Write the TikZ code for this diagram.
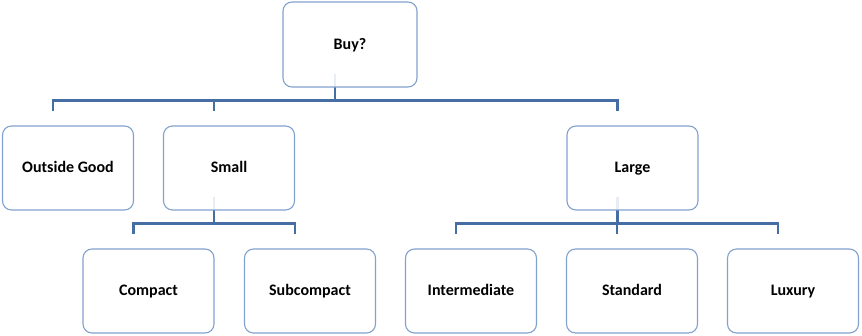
\documentclass[tikz,border=0pt]{standalone}
\usepackage{fontspec}
\setmainfont{Carlito}
\usepackage{xcolor}
\definecolor{boxline}{RGB}{130,162,206}
\definecolor{linkline}{RGB}{70,110,165}
\tikzset{
choice/.style = {draw=boxline, line width=1.1pt, rounded corners=9pt,
                 fill=white, fill opacity=0.88, text opacity=1,
                 minimum width=131pt, minimum height=84pt,
                 text height=2ex, text depth=.1ex,
                 font=\bfseries\fontsize{16}{18}\selectfont},
link/.style = {draw=linkline, line width=2.8pt, line join=miter}}
\usetikzlibrary{%
  positioning,calc,backgrounds
}
\begin{document}
\begin{tikzpicture}[x=1pt,y=1pt]
  \useasboundingbox (0,0) rectangle (862,335);
  % nest levels
  \node[choice, minimum width=134pt, minimum height=85pt] (buy) at (350,290.5) {Buy?};
  \node[choice] (og)    at (68,167)    {Outside Good};
  \node[choice] (small) at (229,167)   {Small};
  \node[choice] (large) at (632.5,167) {Large};
  \node[choice] (compact)      at (148.5,44) {Compact};
  \node[choice] (subcompact)   at (310,44)   {Subcompact};
  \node[choice] (intermediate) at (471,44)   {Intermediate};
  \node[choice] (standard)     at (632,44)   {Standard};
  \node[choice] (luxury)       at (793,44)   {Luxury};

  \begin{scope}[on background layer]
    \foreach \p/\kids in {buy/{og,small,large},
                          small/{compact,subcompact},
                          large/{intermediate,standard,luxury}}{
      \coordinate (\p bar) at ($(\p.south)+(-15,-13)$);
      \foreach \k in \kids {
        \draw[link] ($(\p.south)+(-15,14)$) -- (\p bar) -| ($(\k.north)+(-15,14)$);
      }
    }
  \end{scope}
\end{tikzpicture}
\end{document}
